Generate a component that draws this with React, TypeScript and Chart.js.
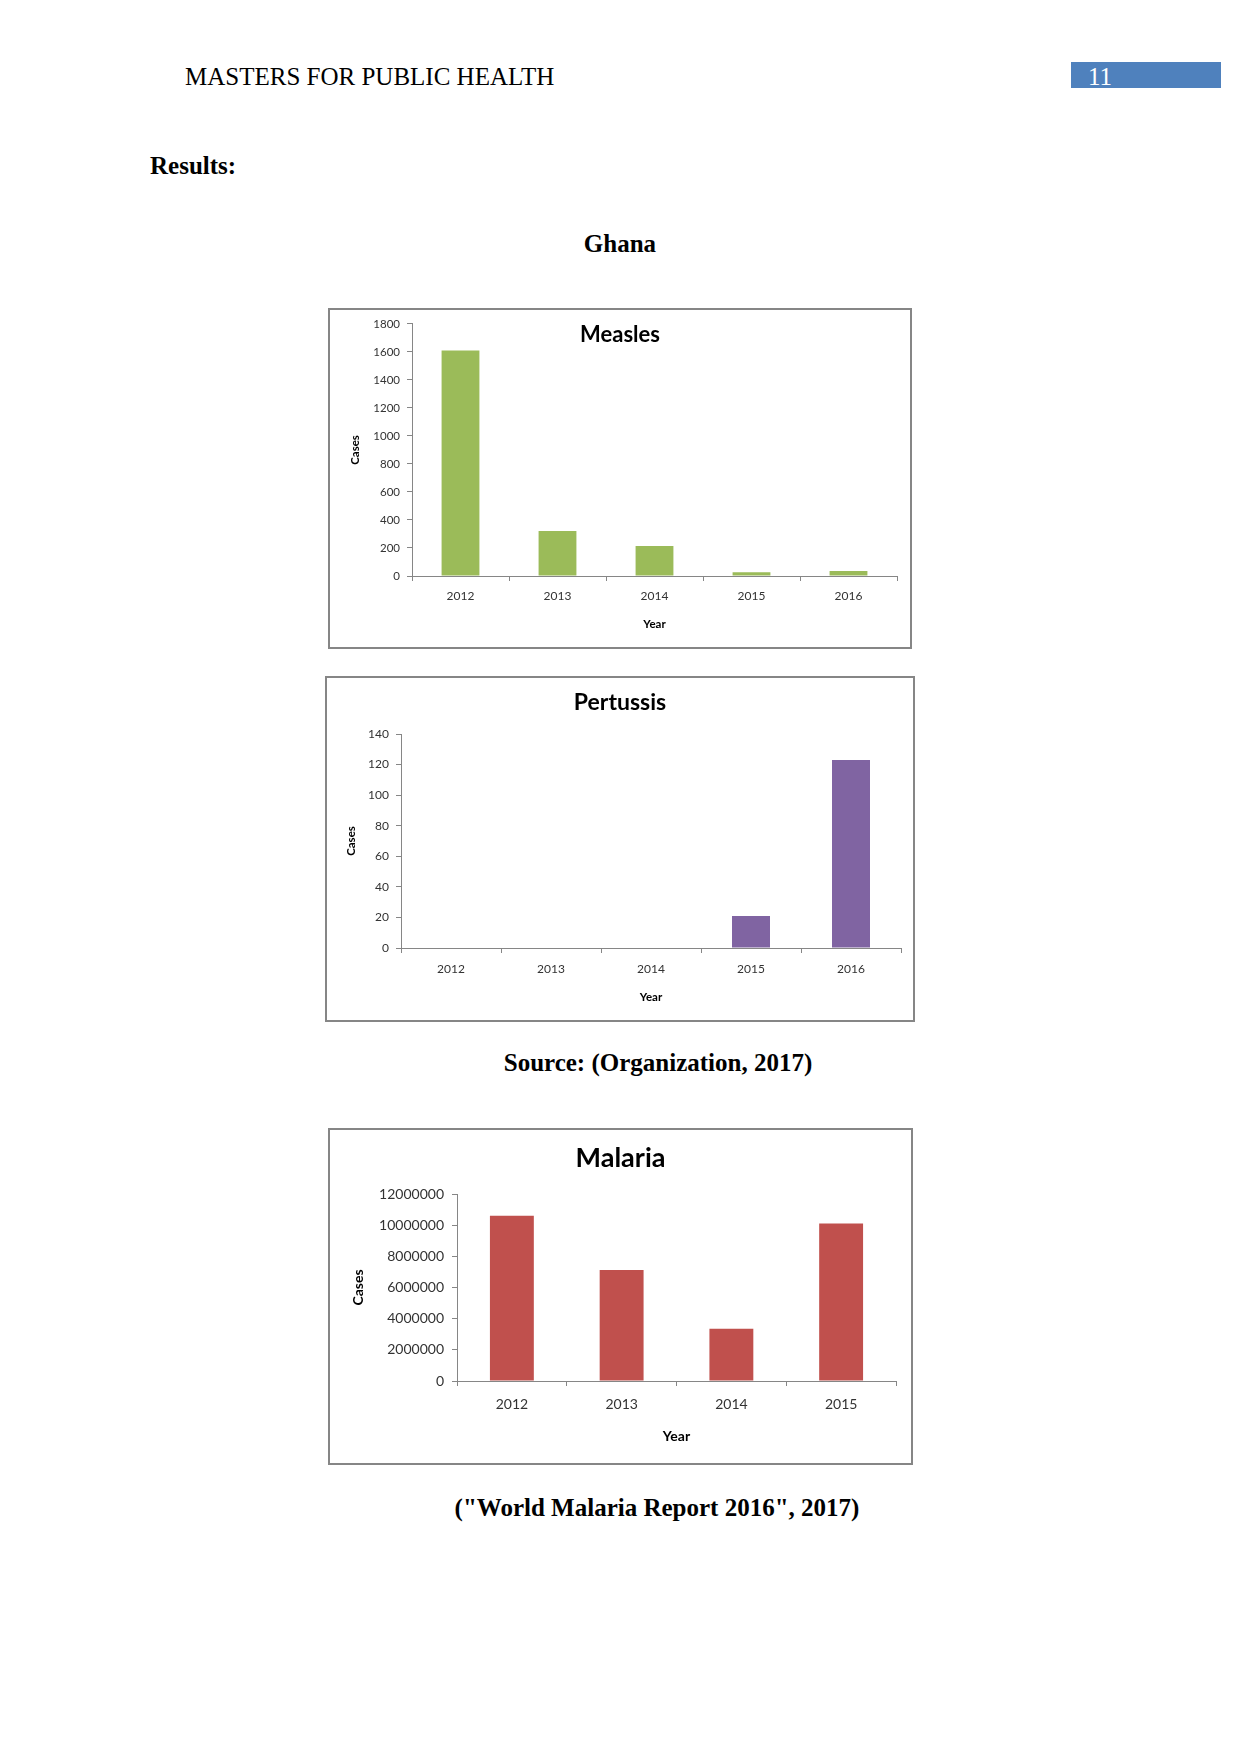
import React, { useEffect, useRef } from "react";
import { Chart, registerables } from "chart.js";

Chart.register(...registerables);

// ---------- data ----------
const measlesYears = ["2012", "2013", "2014", "2015", "2016"];
const measlesCases = [1610, 321, 214, 26, 36];
const measlesAxis = { max: 1800, step: 200 };

const pertussisYears = ["2012", "2013", "2014", "2015", "2016"];
const pertussisCases = [0, 0, 0, 21, 123];
const pertussisAxis = { max: 140, step: 20 };

const malariaYears = ["2012", "2013", "2014", "2015"];
const malariaCases = [10610000, 7120000, 3360000, 10100000];
const malariaAxis = { max: 12000000, step: 2000000 };

const FONT = "Lato, 'Open Sans', sans-serif";
const AXIS_GREY = "#868686";

const titlePlugin = {
  id: "overlayTitle",
  afterDraw(chart: any, _args: any, opts: any) {
    if (!opts || !opts.text) return;
    const ctx = chart.ctx;
    ctx.save();
    ctx.font = `bold ${opts.size}px ${FONT}`;
    ctx.fillStyle = "#000";
    ctx.textAlign = "center";
    ctx.textBaseline = "middle";
    ctx.fillText(opts.text, chart.width / 2, opts.y);
    ctx.restore();
  },
};

type ChartSpec = {
  title: string;
  titleSize: number;
  titleY: number;
  labels: string[];
  values: number[];
  axis: { max: number; step: number };
  color: string;
  width: number;
  height: number;
  pad: { left: number; top: number; right: number; bottom: number };
  yWidth: number;
  xHeight: number;
  tickSize: number;
  xTickSize: number;
  yTickPad: number;
  xTickPad: number;
  axisTitleSize: number;
  barPct: number;
};

function BarChart({ spec }: { spec: ChartSpec }) {
  const ref = useRef<HTMLCanvasElement | null>(null);
  useEffect(() => {
    if (!ref.current) return;
    const chart = new Chart(ref.current, {
      type: "bar",
      data: {
        labels: spec.labels,
        datasets: [
          {
            data: spec.values,
            backgroundColor: spec.color,
            borderWidth: 0,
            barPercentage: spec.barPct,
            categoryPercentage: 1,
          },
        ],
      },
      options: {
        animation: false,
        responsive: false,
        devicePixelRatio: 1,
        layout: { padding: spec.pad },
        plugins: {
          legend: { display: false },
          tooltip: { enabled: false },
          title: { display: false },
          overlayTitle: { text: spec.title, size: spec.titleSize, y: spec.titleY },
        } as any,
        scales: {
          x: {
            grid: {
              display: true,
              drawOnChartArea: false,
              drawTicks: true,
              tickLength: 5,
              color: AXIS_GREY,
              offset: true,
            },
            border: { display: true, color: AXIS_GREY },
            ticks: {
              color: "#333",
              font: { family: FONT, size: spec.xTickSize },
              padding: spec.xTickPad,
              maxRotation: 0,
            },
            title: {
              display: true,
              text: "Year",
              color: "#000",
              font: { family: FONT, size: spec.axisTitleSize, weight: "bold" },
              padding: 0,
            },
            afterFit: (s: any) => {
              s.height = spec.xHeight;
            },
          },
          y: {
            min: 0,
            max: spec.axis.max,
            grid: {
              display: true,
              drawOnChartArea: false,
              drawTicks: true,
              tickLength: 5,
              color: AXIS_GREY,
            },
            border: { display: true, color: AXIS_GREY },
            ticks: {
              stepSize: spec.axis.step,
              color: "#333",
              font: { family: FONT, size: spec.tickSize },
              padding: spec.yTickPad,
              callback: (v: any) => String(v),
            },
            title: {
              display: true,
              text: "Cases",
              color: "#000",
              font: { family: FONT, size: spec.axisTitleSize, weight: "bold" },
              padding: 0,
            },
            afterFit: (s: any) => {
              s.width = spec.yWidth;
            },
          },
        },
      },
      plugins: [titlePlugin],
    });
    return () => chart.destroy();
  }, [spec]);
  return (
    <canvas
      ref={ref}
      width={spec.width}
      height={spec.height}
      style={{ width: spec.width, height: spec.height, display: "block" }}
    />
  );
}

const measlesSpec: ChartSpec = {
  title: "Measles",
  titleSize: 22,
  titleY: 25,
  labels: measlesYears,
  values: measlesCases,
  axis: measlesAxis,
  color: "#9BBB59",
  width: 580,
  height: 337,
  pad: { left: 18, top: 13, right: 13, bottom: 16 },
  yWidth: 64,
  xHeight: 55,
  tickSize: 11.5,
  xTickSize: 12,
  yTickPad: 7,
  xTickPad: 8,
  axisTitleSize: 11.5,
  barPct: 0.39,
};

const pertussisSpec: ChartSpec = {
  title: "Pertussis",
  titleSize: 23,
  titleY: 25,
  labels: pertussisYears,
  values: pertussisCases,
  axis: pertussisAxis,
  color: "#8064A2",
  width: 586,
  height: 342,
  pad: { left: 17, top: 56, right: 12, bottom: 16 },
  yWidth: 57,
  xHeight: 56,
  tickSize: 12,
  xTickSize: 12,
  yTickPad: 7,
  xTickPad: 9,
  axisTitleSize: 11.5,
  barPct: 0.38,
};

const malariaSpec: ChartSpec = {
  title: "Malaria",
  titleSize: 27,
  titleY: 28,
  labels: malariaYears,
  values: malariaCases,
  axis: malariaAxis,
  color: "#C0504D",
  width: 581,
  height: 333,
  pad: { left: 20, top: 64, right: 15, bottom: 18 },
  yWidth: 107,
  xHeight: 64,
  tickSize: 14,
  xTickSize: 14,
  yTickPad: 8,
  xTickPad: 10,
  axisTitleSize: 14,
  barPct: 0.4,
};

const serif = "'Liberation Serif', 'Times New Roman', serif";

function Box({ left, top, w, h, children }: any) {
  return (
    <div
      style={{
        position: "absolute",
        left,
        top,
        width: w,
        height: h,
        boxSizing: "border-box",
        border: `2px solid ${AXIS_GREY}`,
        background: "#fff",
      }}
    >
      {children}
    </div>
  );
}

function TextLine({ children, left, centerX, cy, size = 25, bold = false, color = "#000" }: any) {
  const style: any = {
    position: "absolute",
    top: cy - size / 2,
    fontFamily: serif,
    fontSize: size,
    lineHeight: `${size}px`,
    fontWeight: bold ? "bold" : "normal",
    color,
    whiteSpace: "nowrap",
  };
  if (centerX !== undefined) {
    style.left = centerX;
    style.transform = "translateX(-50%)";
  } else {
    style.left = left;
  }
  return <div style={style}>{children}</div>;
}

export default function App() {
  return (
    <div
      style={{
        position: "absolute",
        left: 0,
        top: 0,
        width: 1241,
        height: 1754,
        background: "#fff",
        overflow: "hidden",
      }}
    >
      <TextLine left={185} cy={76}>MASTERS FOR PUBLIC HEALTH</TextLine>
      <div
        style={{
          position: "absolute",
          left: 1071,
          top: 62,
          width: 150,
          height: 26,
          background: "#4F81BD",
        }}
      />
      <TextLine left={1088} cy={76} color="#fff">11</TextLine>
      <TextLine left={150} cy={165} bold>Results:</TextLine>
      <TextLine centerX={620} cy={243} bold>Ghana</TextLine>

      <Box left={328} top={308} w={584} h={341}>
        <BarChart spec={measlesSpec} />
      </Box>
      <Box left={325} top={676} w={590} h={346}>
        <BarChart spec={pertussisSpec} />
      </Box>

      <TextLine centerX={658} cy={1062} bold>Source: (Organization, 2017)</TextLine>

      <Box left={328} top={1128} w={585} h={337}>
        <BarChart spec={malariaSpec} />
      </Box>

      <TextLine centerX={657} cy={1507} bold>("World Malaria Report 2016", 2017)</TextLine>
    </div>
  );
}
